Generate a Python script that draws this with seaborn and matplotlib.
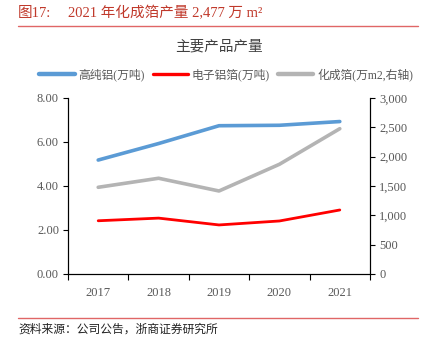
import matplotlib
matplotlib.use("Agg")
import matplotlib.pyplot as plt
import seaborn as sns
import pandas as pd
from matplotlib.lines import Line2D
from matplotlib.ticker import FuncFormatter, FixedLocator

years = ["2017", "2018", "2019", "2020", "2021"]
high_purity_al = [5.18, 5.93, 6.74, 6.76, 6.93]      # 万吨
electronic_foil = [2.42, 2.54, 2.23, 2.41, 2.91]      # 万吨
formed_foil = [1478, 1632, 1415, 1870, 2477]          # 万m2, right axis

label_hp = "高纯铝(万吨)"
label_ef = "电子铝箔(万吨)"
label_ff = "化成箔(万m2,右轴)"

sns.set_theme(style="white")
FAM = ["Liberation Serif", "Noto Sans CJK SC", "DejaVu Sans"]
plt.rcParams["font.family"] = FAM

c_blue = "#5B9BD5"
c_red = "#FF0000"
c_gray = "#B4B4B4"
c_tick = "#595959"
c_title = "#C0392B"

df = pd.DataFrame({"year": years, "hp": high_purity_al, "ef": electronic_foil, "ff": formed_foil})

fig = plt.figure(figsize=(4.36, 3.43), dpi=100)
ax = fig.add_axes([68/436, 1-274/343, (370-68)/436, (274-98)/343])
ax2 = ax.twinx()

sns.lineplot(data=df, x="year", y="hp", ax=ax, color=c_blue, lw=2.6, sort=False)
sns.lineplot(data=df, x="year", y="ef", ax=ax, color=c_red, lw=2.0, sort=False)
sns.lineplot(data=df, x="year", y="ff", ax=ax2, color=c_gray, lw=2.6, sort=False)
ax.set_zorder(ax2.get_zorder() + 1)
ax.patch.set_visible(False)

ax.set_xlim(-0.5, 4.5)
ax.set_ylim(0, 8)
ax2.set_ylim(0, 3000)
ax.set_yticks([0, 2, 4, 6, 8])
ax.yaxis.set_major_formatter(FuncFormatter(lambda v, p: f"{v:.2f}"))
ax2.set_yticks([0, 500, 1000, 1500, 2000, 2500, 3000])
ax2.yaxis.set_major_formatter(FuncFormatter(lambda v, p: f"{int(v):,}"))
ax.set_xlabel("")
ax.set_ylabel("")
ax2.set_ylabel("")
ax.grid(False)
ax2.grid(False)

ax.xaxis.set_minor_locator(FixedLocator([-0.5, 0.5, 1.5, 2.5, 3.5, 4.5]))
ax.tick_params(axis="x", which="major", length=0, pad=9, labelsize=9, labelcolor=c_tick)
ax.tick_params(axis="x", which="minor", length=4, width=0.8, color="black", direction="out", bottom=True)
ax.tick_params(axis="y", which="major", length=3.5, width=0.8, color="black", direction="out", left=True, labelsize=9, labelcolor=c_tick, pad=3)
ax2.tick_params(axis="y", which="major", length=3.5, width=0.8, color="black", direction="out", right=True, labelsize=9, labelcolor=c_tick, pad=3)

for a in (ax, ax2):
    a.spines["top"].set_visible(False)
    for s in ["left", "right", "bottom"]:
        a.spines[s].set_color("black")
        a.spines[s].set_linewidth(0.8)

# Header
fig.text(18/436, 1-13/343, "图17:", fontsize=10.5, color=c_title, va="center", ha="left", family=FAM)
fig.text(68/436, 1-13/343, "2021 年化成箔产量 2,477 万 m²", fontsize=10.5, color=c_title, va="center", ha="left", family=FAM)
fig.add_artist(Line2D([18/436, 418/436], [1-26/343, 1-26/343], color="#E06666", lw=1.0, transform=fig.transFigure))

fig.text(219/436, 1-47/343, "主要产品产量", fontsize=10.5, color="#404040", va="center", ha="center", family=FAM)

handles = [Line2D([], [], color=c_blue, lw=3.2),
           Line2D([], [], color=c_red, lw=2.4),
           Line2D([], [], color=c_gray, lw=3.2)]
leg = fig.legend(handles, [label_hp, label_ef, label_ff], loc="center", bbox_to_anchor=(226/436, 1-75/343),
                 ncol=3, frameon=False, fontsize=8.5, handlelength=3.0, handletextpad=0.3, columnspacing=0.7,
                 borderaxespad=0)
for t in leg.get_texts():
    t.set_color(c_tick)

# Footer
fig.add_artist(Line2D([18/436, 418/436], [1-318/343, 1-318/343], color="#E06666", lw=1.0, transform=fig.transFigure))
fig.text(18/436, 1-330/343, "资料来源：公司公告，浙商证券研究所", fontsize=8.5, color="#222222", va="center", ha="left", family=FAM)

fig.savefig("out.png", dpi=100)
